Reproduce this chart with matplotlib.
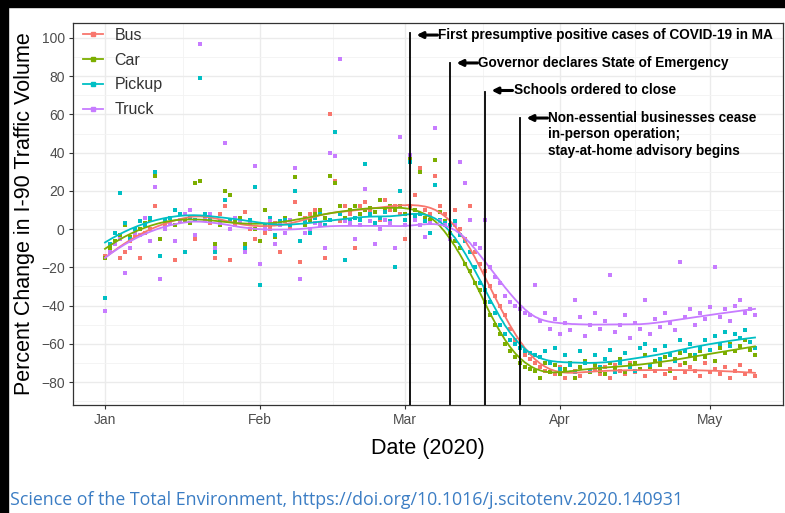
import numpy as np
import matplotlib
matplotlib.use('Agg')
import matplotlib.pyplot as plt

plt.rcParams['font.family'] = ['Liberation Sans', 'DejaVu Sans']

# days since 1 Jan 2020 (0..130)
days = np.arange(131)

bus = [-14, -10, -8, -15, -12, -6, -3, -15, -2, 0,
       12, -14, 2, 6, -16, 4, 8, 10, -5, 25,
       5, 3, -15, 8, 12, -16, 2, 5, 9, 0,
       -5, -18, -2, 0, 3, -12, 4, 1, 14, -17,
       6, 8, 10, 3, -15, 60, 25, 4, 12, 8,
       -10, 12, 14, 10, -8, 5, 15, 10, 12, 8,
       -5, 12, 18, 32, 10, 8, 28, 12, 8, 2,
       10, 0, -5, 12, -12, -18, -22, -30, -35, -40,
       -45, -52, -58, -62, -66, -68, -70, -72,
       -74, -70, -76, -72, -78, -71, -74, -77, -70, -75, -73, -76,
       -72, -78, -71, -74, -76, -70, -75, -73, -77, -72,
       -74, -70, -76, -73, -78, -71, -75, -72, -74, -77,
       -70, -75, -73, -76, -72, -78, -74, -71, -76, -74, -77]
car = [-15, -10, -6, -3, 2, -4, -2, 0, 3, 5,
       28, -5, 4, 6, 2, 8, 5, 3, 24, 25,
       6, 4, -8, 2, 20, 18, 5, 6, -8, 4,
       0, -6, 10, 2, -4, 3, 6, 5, 27, 8,
       2, 5, 8, 10, 6, 28, 24, 12, 6, 10,
       12, 8, 10, 11, 9, 15, 10, 12, 10, 12,
       8, 37, 10, 30, 6, 5, 36, 9, 4, -2,
       -6, -10, -18, -22, -28, -32, -38, -45, -50, -55,
       -60, -64, -67, -70, -72, -73, -74, -78,
       -70, -75, -71, -76, -73, -70, -78, -72, -69, -75, -71, -74,
       -76, -70, -73, -68, -75, -71, -70, -73, -66, -72,
       -69, -71, -67, -74, -68, -65, -70, -66, -68, -64,
       -67, -63, -69, -62, -65, -60, -64, -61, -58, -63, -66]
pickup = [-36, -8, -2, 19, 3, -5, 0, 4, 2, 6,
          30, -14, 5, 6, 10, 8, -12, 6, 5, 79,
          8, 6, -12, 4, 15, 5, 6, 4, -10, 5,
          22, -29, 2, 6, -3, 4, 5, 2, 20, -6,
          4, -2, 6, 8, 2, 5, 51, 8, -16, 5,
          6, 5, 34, 8, 3, 6, 9, 4, -20, 20,
          5, 35, 7, 8, 4, -2, 23, 5, 3, 2,
          4, -3, -6, -12, -20, -28, -32, -38, -44, -50,
          -55, -58, -60, -62, -64, -65, -66, -67,
          -64, -70, -62, -73, -66, -71, -75, -64, -70, -74, -66, -72,
          -68, -63, -75, -70, -65, -72, -74, -62, -60, -71,
          -63, -68, -61, -66, -69, -58, -64, -60, -66, -62,
          -58, -63, -56, -60, -54, -61, -55, -57, -53, -59, -62]
truck = [-43, -12, -8, -5, -23, -10, -2, -3, 6, -6,
         22, -26, 0, 3, -6, 5, 8, 10, -3, 97,
         5, 8, -10, 3, 45, 0, 6, 4, -12, 3,
         33, -18, 0, 4, -8, 2, -2, 5, 32, -26,
         -2, 0, 3, 2, -10, 40, 38, 89, 4, 3,
         -5, 2, 21, 4, -8, 0, 5, 3, -10, 48,
         2, 39, 5, 2, -4, 3, 53, 4, 2, -5,
         2, 35, 24, 5, -8, -10, 5, -20, -25, -28,
         -35, -38, -40, -42, -44, -45,
         -29, -48, -44, -52, -47, -55, -49, -53, -37, -46, -56, -50, -44, -52,
         -48, -24, -54, -50, -45, -57, -49, -52, -37, -55,
         -47, -51, -44, -49, -53, -17, -46, -42, -50, -44,
         -47, -41, -20, -46, -42, -48, -40, -37, -44, -42, -45]

names = ['Bus', 'Car', 'Pickup', 'Truck']
colors = ['#F8766D', '#7CAE00', '#00BFC4', '#C77CFF']

month_ticks = [0, 31, 60, 91, 121]
month_labels = ['Jan', 'Feb', 'Mar', 'Apr', 'May']

# event dates (day index), top of the marker line, label
events = [61, 69, 76, 83]
event_tops = [102.6, 86.9, 71.7, 58.1]
event_text = ['First presumptive positive cases of COVID-19 in MA',
              'Governor declares State of Emergency',
              'Schools ordered to close',
              'Non-essential businesses cease\nin-person operation;\nstay-at-home advisory begins']


def loess(x, y, xs, span=0.28, iters=2):
    x = np.asarray(x, float)
    y = np.asarray(y, float)
    k = int(np.ceil(span * len(x)))
    rob = np.ones_like(y)

    def fit_at(pts):
        out = []
        for x0 in pts:
            d = np.abs(x - x0)
            h = np.sort(d)[k - 1]
            w = np.clip(1 - (d / h) ** 3, 0, None) ** 3 * rob
            c = np.polyfit(x - x0, y, 2, w=np.sqrt(w))
            out.append(c[-1])
        return np.array(out)

    for _ in range(iters):
        r = y - fit_at(x)
        s = np.median(np.abs(r))
        rob = np.clip(1 - (r / (6 * s)) ** 2, 0, None) ** 2
    return fit_at(xs)


fig = plt.figure(figsize=(7.85, 5.13), dpi=100)
ax = fig.add_axes([73/785, 1 - 405/513, 710/785, 382/513])

xs = np.linspace(0, 130, 300)
for name, vals, col in zip(names, [bus, car, pickup, truck], colors):
    ax.scatter(days, vals, s=10, color=col, marker='s', linewidths=0, zorder=3)
    ax.plot(xs, loess(days, vals, xs), color=col, lw=1.3, zorder=4)

# legend keys with line + point
handles = [plt.Line2D([], [], color=c, lw=1.3, marker='s', ms=3) for c in colors]
leg = ax.legend(handles, names, loc='upper left', frameon=False, fontsize=11.5,
                handlelength=1.3, handletextpad=0.7, borderaxespad=0.2,
                labelspacing=0.62, bbox_to_anchor=(0.0, 1.013))
for t in leg.get_texts():
    t.set_color('#333333')

for d, top in zip(events, event_tops):
    ax.plot([d, d], [-92, top], color='black', lw=1.3, zorder=5)

arrow_y = [101.5, 86.9, 72.5, 58.1]
for d, y, txt in zip(events, arrow_y, event_text):
    tip = d + 1.3
    ax.annotate('', xy=(tip, y), xytext=(tip + 4.2, y),
                arrowprops=dict(arrowstyle='-|>', color='black', lw=2.2,
                                mutation_scale=9, shrinkA=0, shrinkB=0), zorder=6)
    multi = '\n' in txt
    ax.text(tip + 4.4, y + (3.6 if multi else 0), txt, fontsize=9.8, fontweight='bold',
            va='top' if multi else 'center', ha='left', linespacing=1.2, zorder=6)

ax.set_xlim(-6.4, 135.6)
ax.set_ylim(-92, 107.8)
ax.set_xticks(month_ticks)
ax.set_xticklabels(month_labels)
ax.set_xticks([15.5, 45.5, 75.5, 106], minor=True)
ax.set_yticks(np.arange(-80, 101, 20))
ax.set_yticks(np.arange(-90, 101, 20), minor=True)
ax.grid(which='major', color='#EBEBEB', lw=1.0, zorder=0)
ax.grid(which='minor', color='#F3F3F3', lw=0.6, zorder=0)
ax.tick_params(which='major', length=3, color='#333333', labelcolor='#4D4D4D',
               labelsize=10, pad=3)
ax.tick_params(which='minor', length=0)
for s in ax.spines.values():
    s.set_color('#333333')
    s.set_linewidth(0.9)
ax.set_axisbelow(True)

ax.set_xlabel('Date (2020)', fontsize=15.5, labelpad=8)
ax.set_ylabel('Percent Change in I-90 Traffic Volume', fontsize=15.5, labelpad=4)

fig.text(10/785, 1 - 500/513, 'Science of the Total Environment, https://doi.org/10.1016/j.scitotenv.2020.140931',
         color='#3b7dc4', fontsize=12.8, family=['Open Sans', 'DejaVu Sans'], va='center', ha='left')

# dark frame on the top and left edges of the screenshot
fig.patches.append(plt.Rectangle((0, 1 - 7/513), 1, 7/513, transform=fig.transFigure,
                                 color='black', zorder=10))
fig.patches.append(plt.Rectangle((0, 0), 8/785, 1, transform=fig.transFigure,
                                 color='black', zorder=10))

fig.savefig('out.png', dpi=100)
